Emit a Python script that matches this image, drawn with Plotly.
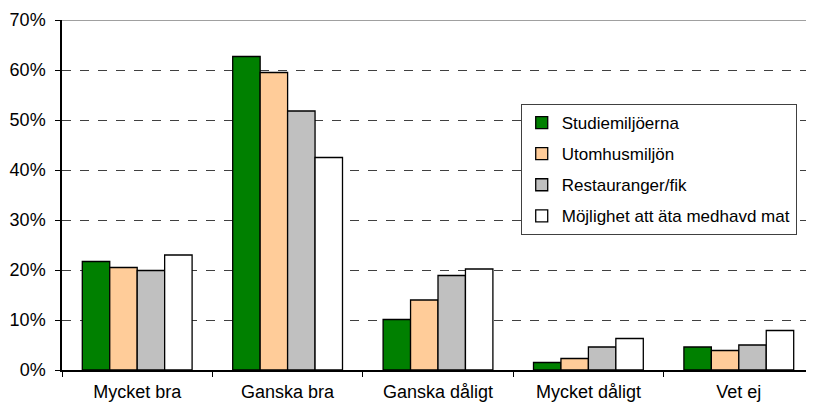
import plotly.graph_objects as go

categories = ["Mycket bra", "Ganska bra", "Ganska dåligt", "Mycket dåligt", "Vet ej"]

series_names = [
    "Studiemiljöerna",
    "Utomhusmiljön",
    "Restauranger/fik",
    "Möjlighet att äta medhavd mat",
]
studiemiljoerna = [21.7, 62.7, 10.1, 1.5, 4.6]
utomhusmiljon = [20.5, 59.5, 14.0, 2.3, 3.9]
restauranger = [19.9, 51.8, 18.9, 4.6, 5.0]
medhavd_mat = [23.0, 42.5, 20.2, 6.3, 7.9]

y_ticks = [0, 10, 20, 30, 40, 50, 60, 70]
y_tick_labels = [f"{v}%" for v in y_ticks]

colors = ["#008000", "#FFCC99", "#C0C0C0", "#FFFFFF"]
font = "Liberation Sans, Arial, sans-serif"

fig = go.Figure()
for i, (name, vals) in enumerate(
    zip(series_names, [studiemiljoerna, utomhusmiljon, restauranger, medhavd_mat])
):
    fig.add_trace(
        go.Bar(
            x=categories,
            y=vals,
            name=name,
            legendgroup=f"g{i}",
            marker=dict(color=colors[i], line=dict(color="black", width=1.3)),
        )
    )

# top border of plot area (solid gray at 70%)
fig.add_shape(
    type="line", xref="paper", yref="y", x0=0, x1=1, y0=70, y1=70,
    line=dict(color="#808080", width=1.5),
)

# the page body adds ~8px offset, margins compensate for it
fig.update_layout(
    width=814,
    height=405,
    margin=dict(l=54, r=8, t=12, b=43),
    paper_bgcolor="white",
    plot_bgcolor="white",
    font=dict(family=font, size=17, color="black"),
    barmode="group",
    bargap=0.27,
    bargroupgap=0,
    showlegend=True,
    legend=dict(
        x=0.61,
        y=0.76,
        xanchor="left",
        yanchor="top",
        bgcolor="white",
        bordercolor="#404040",
        borderwidth=1,
        font=dict(family=font, size=17, color="black"),
        traceorder="grouped",
        tracegroupgap=6,
    ),
    xaxis=dict(
        showline=True,
        linecolor="black",
        linewidth=1.5,
        ticks="outside",
        tickson="boundaries",
        ticklen=5,
        tickcolor="black",
        showgrid=False,
        ticklabelstandoff=5,
        tickfont=dict(size=18),
        automargin=False,
    ),
    yaxis=dict(
        range=[0, 70],
        tickvals=y_ticks,
        ticktext=y_tick_labels,
        showline=True,
        linecolor="black",
        linewidth=1.5,
        ticks="outside",
        ticklen=5,
        tickcolor="black",
        showgrid=True,
        gridcolor="#404040",
        griddash="dash",
        gridwidth=1,
        zeroline=False,
        ticklabelstandoff=6,
        tickfont=dict(size=18),
        automargin=False,
        ticklabeloverflow="allow",
    ),
)

fig.write_html("out.html")
